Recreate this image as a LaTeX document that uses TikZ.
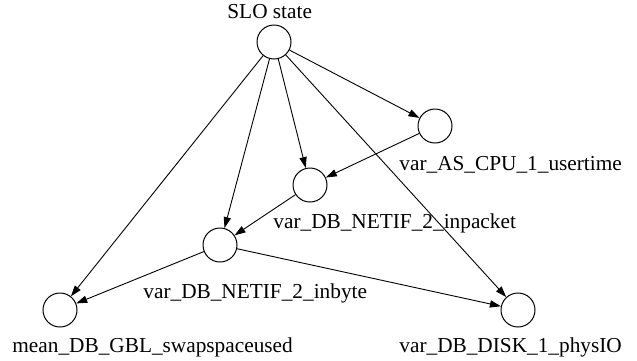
\documentclass[tikz,border=0pt]{standalone}
\usepackage{fontspec}
\setmainfont{Liberation Serif}
\usetikzlibrary{arrows.meta}

\begin{document}
\begin{tikzpicture}[x=0.5pt, y=-0.5pt,
	rv/.style={draw, circle, minimum size=17pt, inner sep=0pt, line width=0.5pt},
	lbl/.style={font=\fontsize{10.65}{12}\selectfont, inner sep=0pt, anchor=base west},
	dep/.style={-{Triangle[length=5.5pt, width=3.6pt]}, line width=0.45pt}]

	\useasboundingbox (0,0) rectangle (637,360);

	% variables
	\node[rv] (slo) at (274,42) {};
	\node[rv] (cpu) at (435,126) {};
	\node[rv] (inpacket) at (310,185) {};
	\node[rv] (inbyte) at (220,245) {};
	\node[rv] (swap) at (60,310) {};
	\node[rv] (disk) at (518,310) {};

	% labels
	\node[lbl] (slo-l) at (227,18) {SLO state};
	\node[lbl] (cpu-l) at (399,170) {var\_AS\_CPU\_1\_usertime};
	\node[lbl] (inpacket-l) at (273,228) {var\_DB\_NETIF\_2\_inpacket};
	\node[lbl] (inbyte-l) at (143,298) {var\_DB\_NETIF\_2\_inbyte};
	\node[lbl] (swap-l) at (12,352) {mean\_DB\_GBL\_swapspaceused};
	\node[lbl] (disk-l) at (399,352) {var\_DB\_DISK\_1\_physIO};

	% dependencies
	\draw[dep] (slo) -- (cpu);
	\draw[dep] (slo) -- (inpacket);
	\draw[dep] (slo) -- (inbyte);
	\draw[dep] (slo) -- (swap);
	\draw[dep] (slo) -- (disk);
	\draw[dep] (cpu) -- (inpacket);
	\draw[dep] (inpacket) -- (inbyte);
	\draw[dep] (inbyte) -- (swap);
	\draw[dep] (inbyte) -- (disk);

\end{tikzpicture}
\end{document}
